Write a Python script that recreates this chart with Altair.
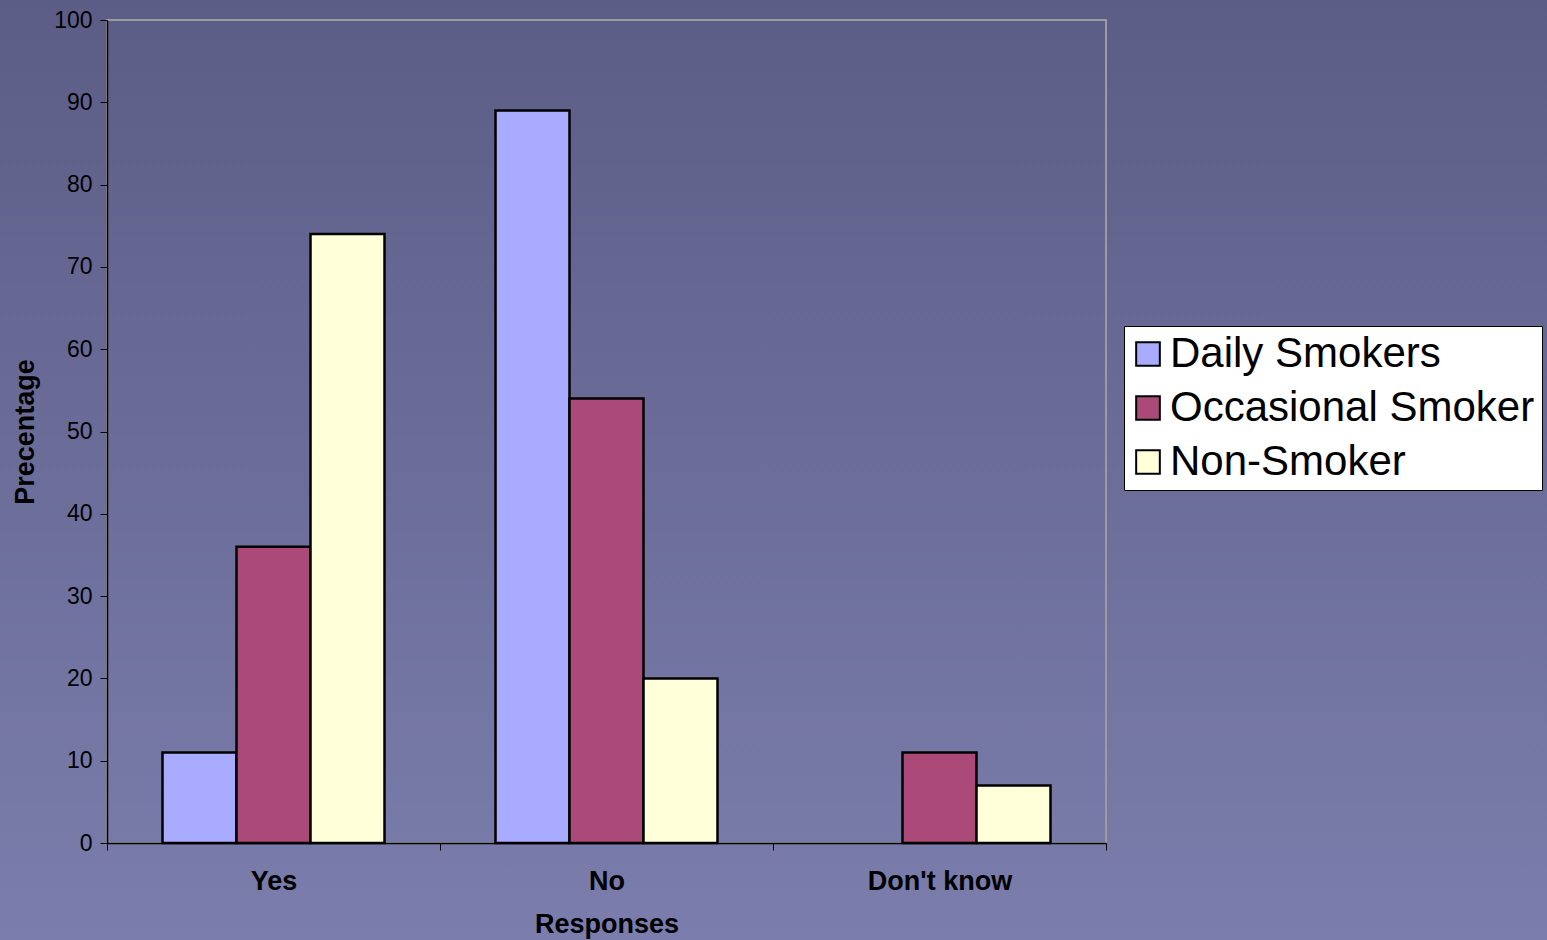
import altair as alt
import pandas as pd

categories = ["Yes", "No", "Don't know"]
groups = ["Daily Smokers", "Occasional Smoker", "Non-Smoker"]
daily = [11, 89, 0]
occasional = [36, 54, 11]
non_smoker = [74, 20, 7]
colors = ["#A9ABFF", "#AB4A78", "#FFFFD9"]
y_ticks = list(range(0, 101, 10))

rows = []
for i, c in enumerate(categories):
    for g, vals in zip(groups, [daily, occasional, non_smoker]):
        rows.append({"Response": c, "Group": g, "Value": vals[i]})
df = pd.DataFrame(rows)

FONT = "Liberation Sans"
W, H = 999, 823
PAD_L, PAD_T = 107, 20
TOTAL_W, TOTAL_H = 1547, 940

bg = alt.Chart(pd.DataFrame({"a": [0]})).mark_rect(
    color=alt.Gradient(
        gradient="linear",
        stops=[alt.GradientStop(color="#5c5d86", offset=0),
               alt.GradientStop(color="#7b7dac", offset=1)],
        x1=0, x2=0, y1=0, y2=1,
    )
).encode(
    x=alt.value(-PAD_L), x2=alt.value(TOTAL_W - PAD_L),
    y=alt.value(-PAD_T), y2=alt.value(TOTAL_H - PAD_T),
)

frame = alt.Chart(pd.DataFrame({"a": [0]})).mark_rect(
    fillOpacity=0, stroke="#9c9c9c", strokeWidth=2
).encode(
    x=alt.value(0), x2=alt.value(W), y=alt.value(0), y2=alt.value(H),
)

bars = alt.Chart(df).transform_filter("datum.Value > 0").mark_bar(
    stroke="black", strokeWidth=2.5, opacity=1
).encode(
    x=alt.X("Response:N", sort=categories,
            scale=alt.Scale(domain=categories, paddingInner=0, paddingOuter=0),
            axis=alt.Axis(title="Responses", labelAngle=0, tickBand="extent",
                          labelFontSize=27, labelFontWeight="bold", labelFont=FONT,
                          labelPadding=18, titleFontSize=27, titleFont=FONT,
                          titleFontWeight="bold", titlePadding=17,
                          tickSize=7, tickColor="black", domainColor="black",
                          domainWidth=1.5, labelColor="black", titleColor="black",
                          zindex=1)),
    xOffset=alt.XOffset("Group:N", sort=groups,
                        scale=alt.Scale(domain=groups, paddingInner=0, paddingOuter=0.75)),
    y=alt.Y("Value:Q", scale=alt.Scale(domain=[0, 100], nice=False),
            axis=alt.Axis(title="Precentage", values=y_ticks, grid=False,
                          labelFontSize=23, labelFont=FONT, labelPadding=8,
                          titleFontSize=27, titleFont=FONT, titleFontWeight="bold",
                          titlePadding=14, tickSize=7, tickColor="black",
                          domainColor="black", domainWidth=1.5,
                          labelColor="black", titleColor="black", zindex=1)),
    color=alt.Color("Group:N", sort=groups,
                    scale=alt.Scale(domain=groups, range=colors),
                    legend=alt.Legend(title=None, orient="none",
                                      legendX=1124 - PAD_L, legendY=326 - PAD_T,
                                      fillColor="white", strokeColor="black",
                                      padding=7, labelFontSize=42, labelFont=FONT,
                                      labelColor="black", symbolType="square",
                                      symbolSize=560, symbolStrokeColor="black",
                                      symbolStrokeWidth=2, symbolOpacity=1,
                                      symbolOffset=-4, labelLimit=0,
                                      rowPadding=12, labelOffset=1)),
)

chart = alt.layer(bg, frame, bars).properties(
    width=W, height=H,
    autosize=alt.AutoSizeParams(type="none"),
    padding={"left": PAD_L, "top": PAD_T, "right": TOTAL_W - PAD_L - W, "bottom": TOTAL_H - PAD_T - H},
    background="#6b6d9a",
).configure_view(stroke=None)

chart.save("out.html", embed_options={"renderer": "svg", "actions": False})
